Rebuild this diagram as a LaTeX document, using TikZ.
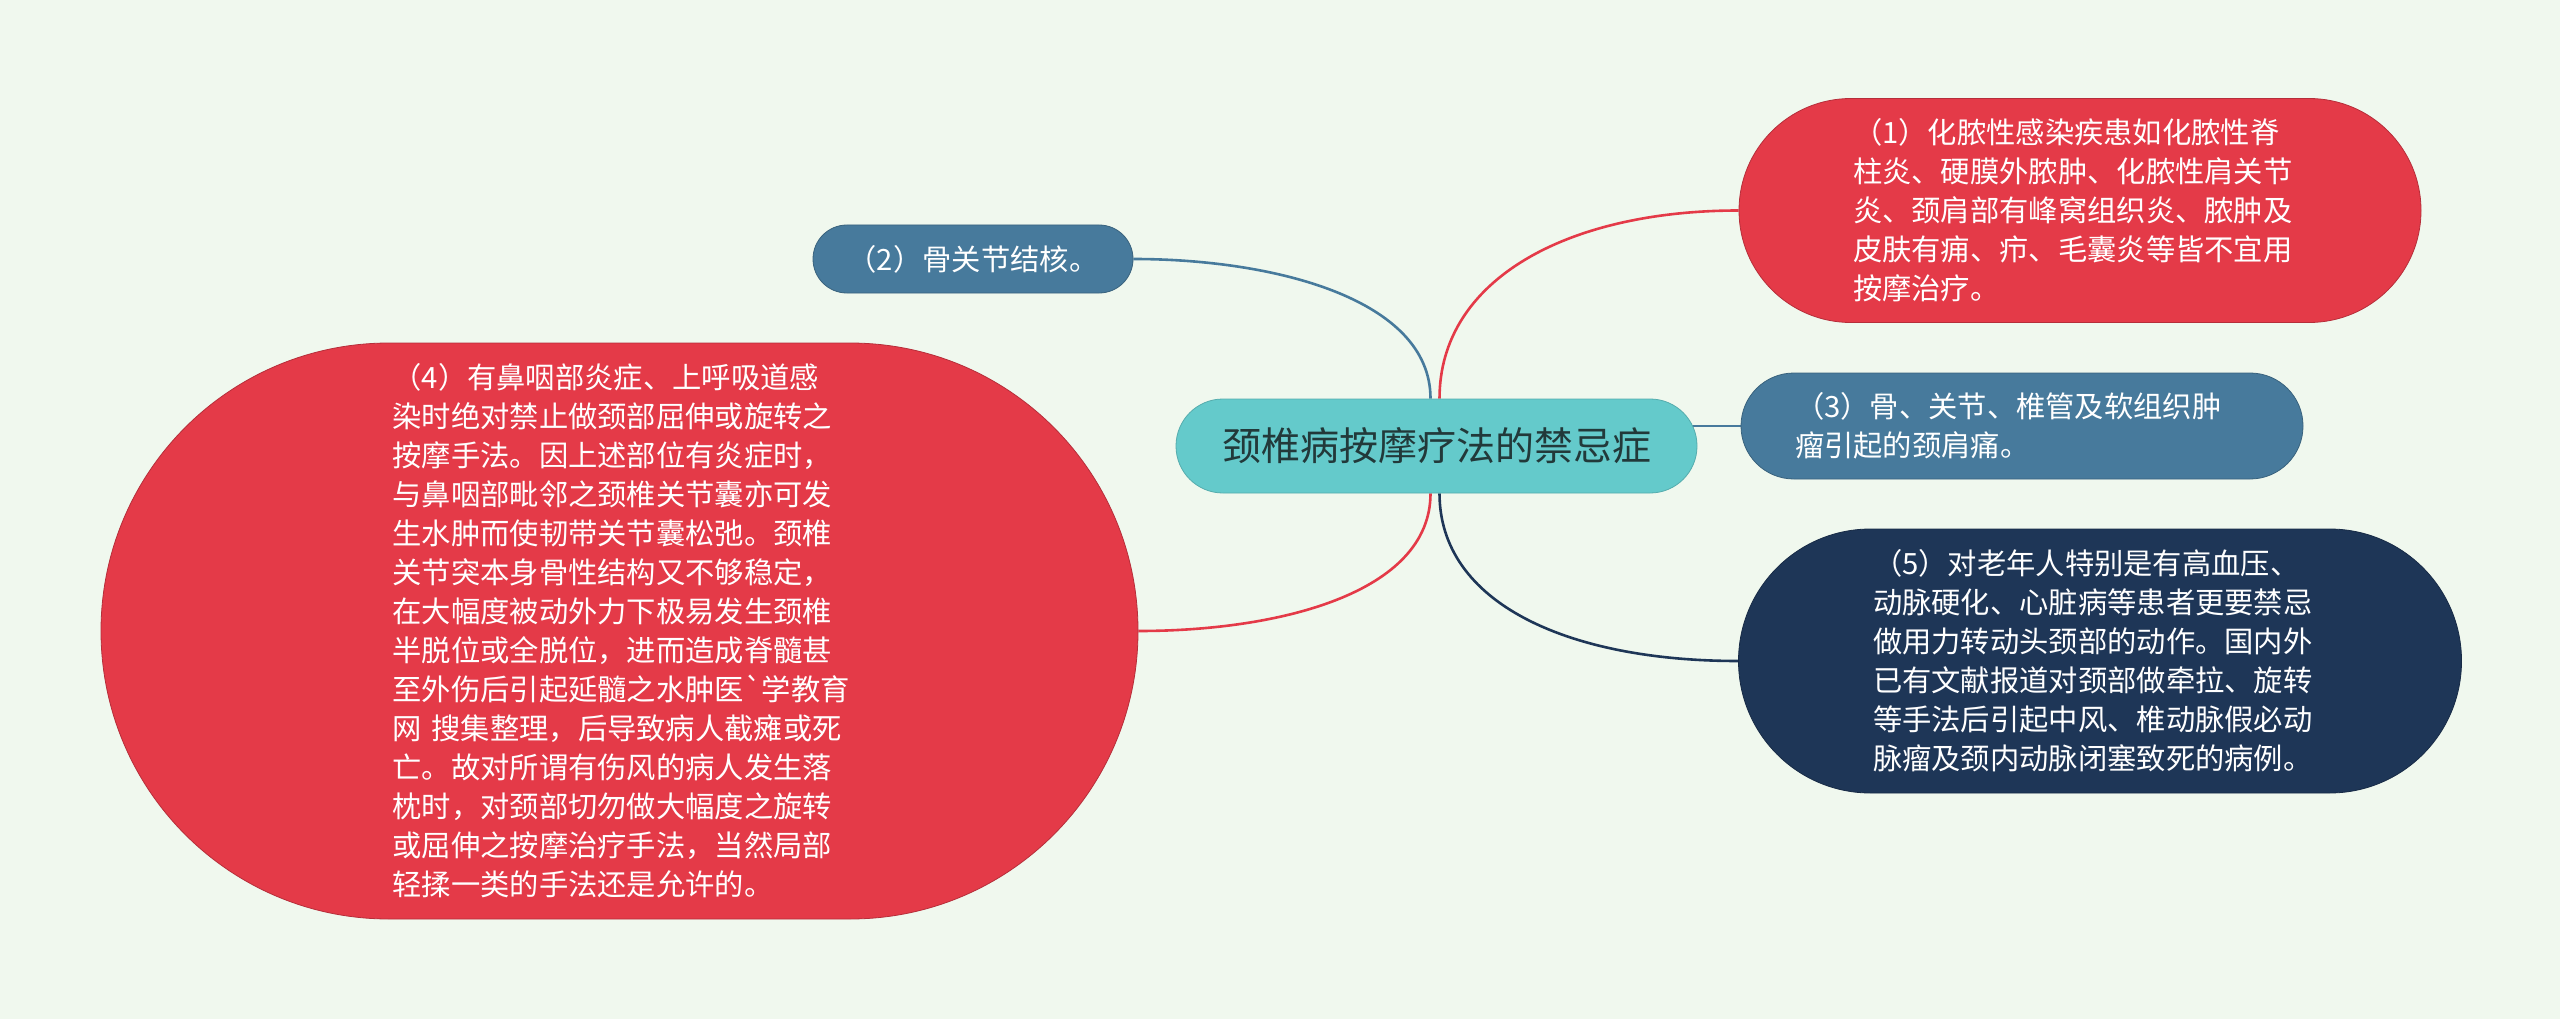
\documentclass[tikz,border=0pt]{standalone}
\usepackage{fontspec}
\newfontfamily\cjk{Noto Sans CJK SC}
\usetikzlibrary{calc}
\definecolor{bgc}{HTML}{F0F8EE}
\definecolor{redc}{HTML}{E43A48}
\definecolor{bluec}{HTML}{477A9C}
\definecolor{navyc}{HTML}{1E3657}
\definecolor{tealc}{HTML}{64CACB}
\definecolor{darktxt}{HTML}{22393A}
\pgfdeclarelayer{bg}
\pgfdeclarelayer{edges}
\pgfsetlayers{bg,edges,main}
\begin{document}
\begin{tikzpicture}[x=1pt,y=-1pt,
  pill/.style args={#1/#2}{rectangle, inner sep=0pt, minimum width=#1pt, minimum height=#2pt, rounded corners=#2*0.5pt-0.05pt},
  sub/.style={text=white, font=\cjk\fontsize{29.3pt}{39pt}\selectfont, align=left, text width=454pt},
  conn/.style={line width=2.6pt},
]
\begin{pgfonlayer}{bg}
\fill[bgc] (0,0) rectangle (2560,1019);
\end{pgfonlayer}
\useasboundingbox (0,0) rectangle (2560,1019);

% central topic
\node[pill=521/94, fill=tealc, draw=tealc!85!black, line width=0.8pt,
      text=darktxt, font=\cjk\fontsize{39pt}{47pt}\selectfont] (C) at (1436.5,446) {颈椎病按摩疗法的禁忌症};

% subtopics
\node[pill=682/224, sub, fill=redc, draw=redc!80!black, line width=0.8pt] (n1) at (2080,210.5)
 {（1）化脓性感染疾患如化脓性脊\\柱炎、硬膜外脓肿、化脓性肩关节\\炎、颈肩部有峰窝组织炎、脓肿及\\皮肤有痈、疖、毛囊炎等皆不宜用\\按摩治疗。};

\node[pill=320/68, fill=bluec, draw=bluec!80!black, line width=0.8pt, text=white,
      font=\cjk\fontsize{29.3pt}{39pt}\selectfont] (n2) at (973,259) {（2）骨关节结核。};

\node[pill=562/106, sub, fill=bluec, draw=bluec!80!black, line width=0.8pt] (n3) at (2022,426)
 {（3）骨、关节、椎管及软组织肿\\瘤引起的颈肩痛。};

\node[pill=1037/576, sub, fill=redc, draw=redc!80!black, line width=0.8pt] (n4) at (619.5,631)
 {（4）有鼻咽部炎症、上呼吸道感\\染时绝对禁止做颈部屈伸或旋转之\\按摩手法。因上述部位有炎症时，\\与鼻咽部毗邻之颈椎关节囊亦可发\\生水肿而使韧带关节囊松弛。颈椎\\关节突本身骨性结构又不够稳定，\\在大幅度被动外力下极易发生颈椎\\半脱位或全脱位，进而造成脊髓甚\\至外伤后引起延髓之水肿医`学教育\\网 搜集整理，后导致病人截瘫或死\\亡。故对所谓有伤风的病人发生落\\枕时，对颈部切勿做大幅度之旋转\\或屈伸之按摩治疗手法，当然局部\\轻揉一类的手法还是允许的。};

\node[pill=723/264, sub, fill=navyc, draw=navyc!80!black, line width=0.8pt] (n5) at (2100,661)
 {（5）对老年人特别是有高血压、\\动脉硬化、心脏病等患者更要禁忌\\做用力转动头颈部的动作。国内外\\已有文献报道对颈部做牵拉、旋转\\等手法后引起中风、椎动脉假必动\\脉瘤及颈内动脉闭塞致死的病例。};

% connectors
\begin{pgfonlayer}{edges}
\draw[conn, bluec] ($(C.north)+(-6,0)$) .. controls +(0,-100) and +(140,0) .. (n2.east);
\draw[conn, redc] ($(C.north)+(3,0)$) .. controls +(0,-120) and +(-170,0) .. (n1.west);
\draw[conn, redc] ($(C.south)+(-6,0)$) .. controls +(0,100) and +(140,0) .. (n4.east);
\draw[conn, navyc] ($(C.south)+(3,0)$) .. controls +(0,110) and +(-170,0) .. (n5.west);
\draw[conn, bluec] (C.center |- n3.west) -- (n3.west);
\end{pgfonlayer}
\end{tikzpicture}
\end{document}
